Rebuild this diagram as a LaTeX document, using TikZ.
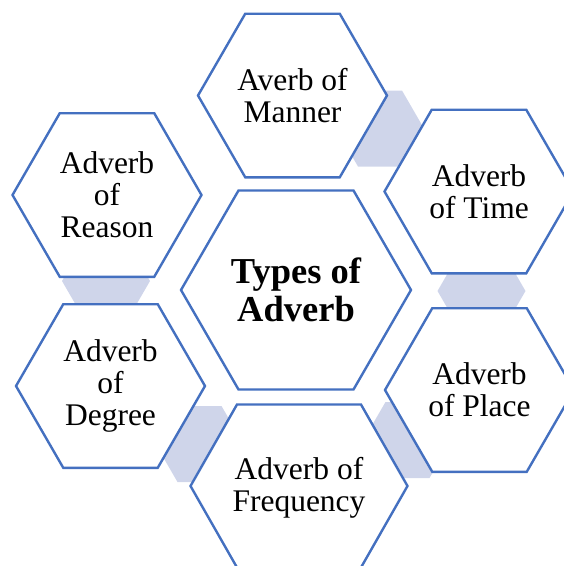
\documentclass[tikz,border=0pt]{standalone}
\usepackage{fontspec}
\setmainfont{Liberation Serif}

\definecolor{hexblue}{HTML}{4470C0}
\definecolor{hexfill}{HTML}{CFD5EA}

\tikzset{
  hexline/.style={draw=hexblue, line width=2.4pt, fill=white},
  hexlink/.style={fill=hexfill, draw=none},
  item/.style={align=center, inner sep=0pt, font=\fontsize{31.5}{32}\selectfont},
  hub/.style={align=center, inner sep=0pt, font=\fontsize{36.5}{38.5}\selectfont\bfseries},
}

% #2 centre, #3 half width, #4 half top edge, #5 half height
\newcommand{\hexagon}[5][hexline]{%
  \path[#1, shift={(#2)}] (-#3,0) -- (-#4,-#5) -- (#4,-#5) -- (#3,0)
    -- (#4,#5) -- (-#4,#5) -- cycle;}

\begin{document}
\begin{tikzpicture}[x=1pt, y=-1pt]
    \useasboundingbox (0,0) rectangle (564,566);
    \clip (0,0) rectangle (564,566);

    \coordinate (c-hub)    at (296,290);
    \coordinate (c-manner) at (292.5,95.5);
    \coordinate (c-time)   at (479,191.5);
    \coordinate (c-place)  at (479.5,390);
    \coordinate (c-freq)   at (299,486);
    \coordinate (c-degree) at (110.5,386);
    \coordinate (c-reason) at (107,195);

    % small links sitting behind the ring
    \coordinate (l-1) at (380,128.5);
    \coordinate (l-2) at (481.5,291);
    \coordinate (l-3) at (407.5,440);
    \coordinate (l-4) at (199.5,444);
    \coordinate (l-5) at (106,281);
    \foreach \l in {1,...,5}
      \hexagon[hexlink]{l-\l}{44}{22}{38};

    \foreach \c in {manner,time,place,degree,reason}
      \hexagon{c-\c}{94.5}{47.25}{81.8};
    \hexagon{c-freq}{108.5}{62}{81.5}
    \hexagon{c-hub}{115}{57.5}{99.5}

    \node[hub]  (hub)    at (c-hub)    {Types of\\Adverb};
    \node[item] (manner) at (c-manner) {Averb of\\Manner};
    \node[item] (time)   at (c-time)   {Adverb\\of Time};
    \node[item] (place)  at (c-place)  {Adverb\\of Place};
    \node[item] (freq)   at ([yshift=-2pt]c-freq) {Adverb of\\Frequency};
    \node[item] (degree) at (c-degree) {Adverb\\of\\Degree};
    \node[item] (reason) at (c-reason) {Adverb\\of\\Reason};
\end{tikzpicture}
\end{document}
